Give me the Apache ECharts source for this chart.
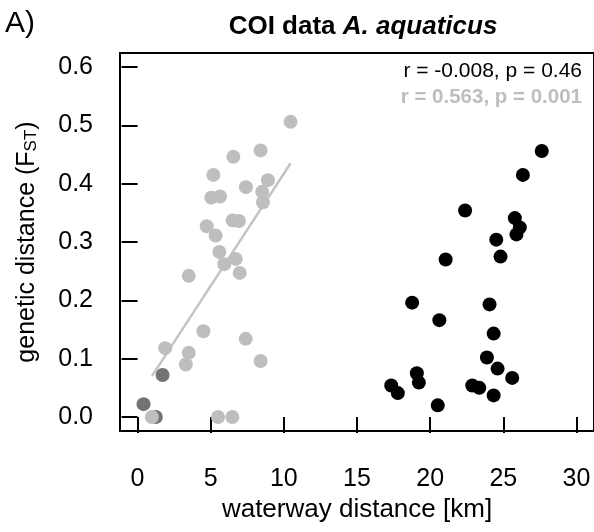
<!DOCTYPE html>
<html>
<head>
<meta charset="utf-8">
<script src="https://cdn.jsdelivr.net/npm/echarts@6/dist/echarts.min.js"></script>
<style>html,body{margin:0;padding:0;background:#fff;}#c{width:594px;height:532px;}</style>
</head>
<body>
<div id="c"></div>
<script>
// Light gray points (within-group pairs, correlated)
const lightX = [10.46, 8.41, 6.55, 5.18, 8.91, 7.41, 8.52, 5.04, 5.64, 8.57, 6.50, 6.93, 4.73, 5.34, 5.59, 6.71, 5.93, 6.98, 3.50, 4.50, 7.39, 1.89, 3.50, 3.30, 8.41, 0.98, 5.50, 6.48];
const lightY = [0.506, 0.457, 0.446, 0.415, 0.406, 0.394, 0.386, 0.376, 0.378, 0.368, 0.337, 0.336, 0.327, 0.311, 0.283, 0.271, 0.262, 0.247, 0.242, 0.147, 0.134, 0.118, 0.110, 0.090, 0.096, 0.000, 0.000, 0.000];
// Dark gray points
const darkX = [1.71, 0.41, 1.25];
const darkY = [0.072, 0.022, 0.000];
// Black points
const blackX = [27.63, 26.34, 22.39, 25.79, 26.13, 25.90, 24.52, 24.81, 21.06, 18.77, 24.06, 20.63, 24.34, 23.88, 24.61, 25.61, 19.09, 19.23, 17.34, 17.79, 22.88, 23.36, 24.34, 20.52];
const blackY = [0.456, 0.415, 0.354, 0.341, 0.325, 0.313, 0.304, 0.275, 0.270, 0.196, 0.193, 0.166, 0.143, 0.102, 0.083, 0.067, 0.075, 0.059, 0.054, 0.041, 0.054, 0.050, 0.037, 0.020];
// Regression line endpoints (light gray group)
const fitX = [0.98, 10.46];
const fitY = [0.070, 0.435];
// Axis ticks
const xTicks = [0, 5, 10, 15, 20, 25, 30];
const yTicks = [0, 0.1, 0.2, 0.3, 0.4, 0.5, 0.6];
const statText1 = 'r = -0.008, p = 0.46';
const statText2 = 'r = 0.563, p = 0.001';

const zip = (a, b) => a.map((v, i) => [v, b[i]]);
const FONT = 'Liberation Sans, Arial, sans-serif';

const chart = echarts.init(document.getElementById('c'), null, {renderer: 'canvas'});
chart.setOption({
  animation: false,
  backgroundColor: '#fff',
  textStyle: {fontFamily: FONT},
  grid: {left: 120, top: 53, width: 476, height: 378, show: true, borderColor: '#000', borderWidth: 2, backgroundColor: 'transparent'},
  title: [
    {text: 'A)', left: 0, top: 4, textStyle: {fontFamily: FONT, fontSize: 30, fontWeight: 'normal', color: '#000'}},
    {text: '{b|COI data }{bi|A. aquaticus}', left: 358, top: 9, textAlign: 'center',
      textStyle: {rich: {
        b: {fontFamily: FONT, fontSize: 26, fontWeight: 'bold', color: '#000'},
        bi: {fontFamily: FONT, fontSize: 26, fontWeight: 'bold', fontStyle: 'italic', color: '#000'}
      }}}
  ],
  graphic: [
    {type: 'text', right: 12, top: 61, style: {text: statText1, font: '21px ' + FONT, fill: '#000'}},
    {type: 'text', right: 12, top: 87, style: {text: statText2, font: 'bold 20.5px ' + FONT, fill: '#bebebe'}}
  ],
  xAxis: {
    type: 'value', min: -1.2, max: 31.2,
    axisLine: {show: false},
    splitLine: {show: false},
    axisTick: {show: true, customValues: xTicks, length: 16, inside: false, lineStyle: {color: '#000', width: 2}},
    axisLabel: {customValues: xTicks, margin: 36, fontSize: 25, color: '#000', fontFamily: FONT},
    name: 'waterway distance [km]', nameLocation: 'middle', nameGap: 66,
    nameTextStyle: {fontSize: 26, color: '#000', fontFamily: FONT}
  },
  yAxis: {
    type: 'value', min: -0.024, max: 0.624,
    axisLine: {show: false},
    splitLine: {show: false},
    axisTick: {show: true, customValues: yTicks, length: 16, inside: false, lineStyle: {color: '#000', width: 2}},
    axisLabel: {customValues: yTicks, margin: 27, fontSize: 25, color: '#000', fontFamily: FONT, formatter: v => v.toFixed(1)},
    name: '{n|genetic distance (F}{s|ST}{n|)}', nameLocation: 'middle', nameGap: 80,
    nameTextStyle: {rich: {
      n: {fontSize: 25, color: '#000', fontFamily: FONT},
      s: {fontSize: 17, color: '#000', fontFamily: FONT, verticalAlign: 'bottom', padding: [6, 0, 0, 0]}
    }}
  },
  series: [
    {type: 'line', data: zip(fitX, fitY), symbol: 'none', lineStyle: {color: '#c4c4c4', width: 2.5}, z: 1},
    {type: 'scatter', data: zip(darkX, darkY), symbolSize: 14, itemStyle: {color: '#737373', opacity: 1}, z: 2},
    {type: 'scatter', data: zip(lightX, lightY), symbolSize: 14, itemStyle: {color: '#bebebe', opacity: 1}, z: 3},
    {type: 'scatter', data: zip(blackX, blackY), symbolSize: 14, itemStyle: {color: '#000', opacity: 1}, z: 3}
  ]
});
</script>
</body>
</html>
